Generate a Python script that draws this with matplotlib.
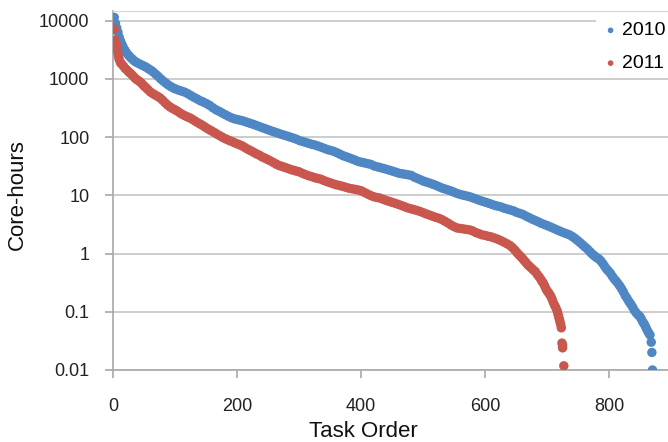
import matplotlib
matplotlib.use('Agg')
import matplotlib.pyplot as plt

# task order / core-hours
task_2010 = [2, 4, 6, 8, 10, 12, 14, 16, 19, 22, 25, 28, 31, 34, 37, 41, 45, 49, 53, 57,
             61, 65, 69, 73, 77, 81, 85, 89, 93, 97, 101, 106, 111, 116, 121, 126, 131, 136, 141, 146,
             151, 156, 161, 166, 171, 176, 181, 186, 191, 196, 201, 206, 211, 216, 221, 226, 231, 236, 241, 246,
             251, 256, 261, 266, 271, 276, 281, 286, 291, 296, 301, 306, 311, 316, 321, 326, 331, 336, 341, 346,
             351, 356, 361, 366, 371, 376, 381, 386, 391, 396, 401, 406, 411, 416, 421, 426, 431, 436, 441, 446,
             451, 456, 461, 466, 471, 476, 481, 486, 491, 496, 501, 506, 511, 516, 521, 526, 531, 536, 541, 546,
             551, 556, 561, 566, 571, 576, 581, 586, 591, 596, 601, 606, 611, 616, 621, 626, 631, 636, 641, 646,
             651, 656, 661, 666, 671, 676, 681, 686, 691, 696, 701, 706, 711, 716, 721, 726, 731, 736, 741, 745,
             749, 753, 757, 761, 765, 769, 772, 775, 778, 781, 784, 787, 790, 793, 796, 799, 802, 805, 808, 811,
             814, 817, 820, 823, 826, 829, 832, 835, 838, 841, 844, 847, 850, 852, 854, 856, 858, 860, 862, 864,
             866, 868, 869, 870]
hours_2010 = [11400, 9000, 7500, 6300, 5200, 4500, 4000, 3600, 3150, 2800, 2550, 2350, 2200, 2050, 1950, 1850, 1760, 1680, 1600, 1500,
              1410, 1310, 1200, 1100, 1000, 920, 850, 790, 740, 700, 670, 640, 615, 590, 555, 515, 480, 450, 420, 400,
              375, 350, 320, 295, 278, 260, 243, 228, 215, 206, 200, 194, 188, 180, 173, 166, 159, 152, 145, 139,
              133, 127, 122, 117, 112, 108, 104, 100, 96, 92, 87, 84, 81, 78, 75, 73, 70, 67, 64, 61,
              59, 57, 54, 51, 48, 46, 44, 42, 40, 38, 37, 36, 35, 34, 32, 31, 30, 29, 28, 27,
              26, 25, 24, 23.5, 23, 22.5, 22, 20.5, 19.5, 18.5, 17.5, 16.8, 16.2, 15.5, 14.8, 14, 13.3, 12.8, 12.3, 11.8,
              11.2, 10.7, 10.3, 10, 9.7, 9.4, 9, 8.6, 8.2, 7.9, 7.6, 7.3, 7, 6.7, 6.5, 6.3, 6, 5.8, 5.6, 5.4,
              5.1, 4.9, 4.7, 4.4, 4.15, 3.9, 3.7, 3.5, 3.3, 3.15, 3.0, 2.85, 2.7, 2.55, 2.42, 2.3, 2.2, 2.1, 1.95, 1.82,
              1.68, 1.55, 1.42, 1.3, 1.2, 1.08, 1.0, 0.94, 0.88, 0.84, 0.8, 0.74, 0.67, 0.6, 0.54, 0.5, 0.46, 0.41, 0.37, 0.34,
              0.31, 0.28, 0.25, 0.22, 0.19, 0.17, 0.15, 0.135, 0.12, 0.105, 0.095, 0.088, 0.082, 0.075, 0.068, 0.063, 0.058, 0.052, 0.047, 0.043,
              0.04, 0.03, 0.02, 0.01]

task_2011 = [2, 4, 5, 6, 7, 8, 9, 10, 12, 14, 17, 20, 23, 26, 29, 32, 35, 38, 41, 44,
             47, 50, 53, 56, 60, 64, 68, 72, 76, 80, 84, 88, 92, 96, 100, 104, 108, 112, 116, 120,
             124, 128, 132, 136, 140, 144, 148, 152, 156, 160, 164, 168, 172, 176, 180, 184, 188, 192, 196, 200,
             204, 208, 212, 216, 220, 224, 228, 232, 236, 240, 244, 248, 252, 256, 260, 264, 268, 272, 276, 280,
             284, 288, 292, 296, 300, 305, 310, 315, 320, 325, 330, 335, 340, 345, 350, 355, 360, 365, 370, 375,
             380, 385, 390, 395, 400, 405, 410, 415, 420, 425, 430, 435, 440, 445, 450, 455, 460, 465, 470, 475,
             480, 485, 490, 495, 500, 505, 510, 515, 520, 525, 530, 535, 540, 545, 550, 555, 560, 565, 570, 575,
             580, 585, 590, 595, 600, 605, 610, 615, 620, 625, 630, 635, 640, 644, 648, 651, 654, 657, 660, 663,
             666, 669, 672, 675, 678, 681, 684, 687, 690, 692, 694, 696, 698, 700, 702, 704, 706, 708, 710, 712,
             714, 716, 717, 718, 719, 720, 721, 722, 723, 724, 725, 725, 727]
hours_2011 = [7200, 4600, 4100, 3600, 3100, 2700, 2400, 2150, 1900, 1800, 1650, 1500, 1400, 1300, 1220, 1130, 1040, 980, 930, 885,
              820, 760, 710, 660, 600, 560, 530, 500, 470, 430, 390, 355, 330, 310, 295, 278, 260, 245, 233, 223,
              214, 202, 190, 179, 169, 160, 150, 141, 133, 126, 119, 112, 106, 100, 95, 91, 87, 84, 80, 77,
              74, 71, 67, 63, 60, 57, 54, 51, 49, 46, 44, 42, 40, 38, 36, 34, 32.5, 31.5, 30.5, 29.5,
              28.5, 27.5, 26.8, 26, 25.4, 24, 22.8, 21.8, 21, 20.2, 19.5, 19, 18, 17.2, 16.5, 15.8, 15.2, 14.8, 14.3, 13.8,
              13.3, 13, 12.7, 12.4, 12, 11.3, 10.6, 10, 9.5, 9.2, 9, 8.6, 8.2, 7.9, 7.6, 7.3, 7, 6.7, 6.4, 6.1,
              5.9, 5.7, 5.5, 5.3, 5.05, 4.8, 4.6, 4.4, 4.2, 4.05, 3.85, 3.6, 3.35, 3.1, 2.9, 2.75, 2.7, 2.65, 2.6, 2.55,
              2.45, 2.3, 2.2, 2.1, 2.05, 1.98, 1.93, 1.85, 1.77, 1.68, 1.58, 1.48, 1.38, 1.27, 1.15, 1.05, 0.97, 0.9, 0.83, 0.76,
              0.7, 0.64, 0.6, 0.56, 0.52, 0.49, 0.44, 0.4, 0.36, 0.33, 0.31, 0.28, 0.25, 0.23, 0.215, 0.2, 0.185, 0.165, 0.145, 0.13,
              0.118, 0.105, 0.097, 0.088, 0.08, 0.073, 0.066, 0.06, 0.053, 0.029, 0.027, 0.024, 0.0118]

x_ticks = [0, 200, 400, 600, 800]
y_ticks = [0.01, 0.1, 1, 10, 100, 1000, 10000]
y_tick_labels = ['0.01', '0.1', '1', '10', '100', '1000', '10000']

blue = '#4F86C4'
red = '#C9574D'

plt.rcParams['font.family'] = ['Liberation Sans', 'DejaVu Sans']

fig = plt.figure(figsize=(6.68, 4.42), dpi=100)
ax = fig.add_axes([113 / 668, 1 - 370 / 442, 1 - 113 / 668, (370 - 10.7) / 442])

ax.scatter(task_2010, hours_2010, s=46, color=blue, edgecolors='none', label='2010', zorder=3)
ax.scatter(task_2011, hours_2011, s=46, color=red, edgecolors='none', label='2011', zorder=4)

ax.set_yscale('log')
ax.set_xlim(0, 895)
ax.set_ylim(0.01, 10 ** 4.1716)
ax.set_yticks(y_ticks)
ax.set_yticklabels(y_tick_labels)
ax.set_xticks(x_ticks)
ax.minorticks_off()

ax.grid(axis='y', color='#c9c9c9', linewidth=1.3)
ax.set_axisbelow(True)
for side in ['left', 'bottom']:
    ax.spines[side].set_color('#a8a8a8')
    ax.spines[side].set_linewidth(1.2)
ax.spines['top'].set_color('#d6d6d6')
ax.spines['right'].set_visible(False)
ax.tick_params(axis='both', colors='#a8a8a8', labelcolor='#222222', labelsize=13, length=6, width=1.2)
ax.tick_params(axis='x', pad=14)
ax.tick_params(axis='y', pad=11)

leg = ax.legend(loc='upper left', bbox_to_anchor=(596 / 668, 1 - 16 / 442), bbox_transform=fig.transFigure,
                frameon=True, fontsize=14, markerscale=0.6, handlelength=0.9, handletextpad=0.15,
                borderpad=0.3, labelspacing=0.78, borderaxespad=0)
leg.get_frame().set_facecolor('white')
leg.get_frame().set_edgecolor('none')
leg.get_frame().set_alpha(1)
leg.get_frame().set_boxstyle('square', pad=0)

fig.text(363 / 668, 1 - 437 / 442, 'Task Order', ha='center', va='baseline', fontsize=16, color='#111111')
fig.text(17.5 / 668, 1 - 195 / 442, 'Core-hours', ha='center', va='center', rotation=90, fontsize=16, color='#111111')

fig.savefig('out.png', dpi=100)
